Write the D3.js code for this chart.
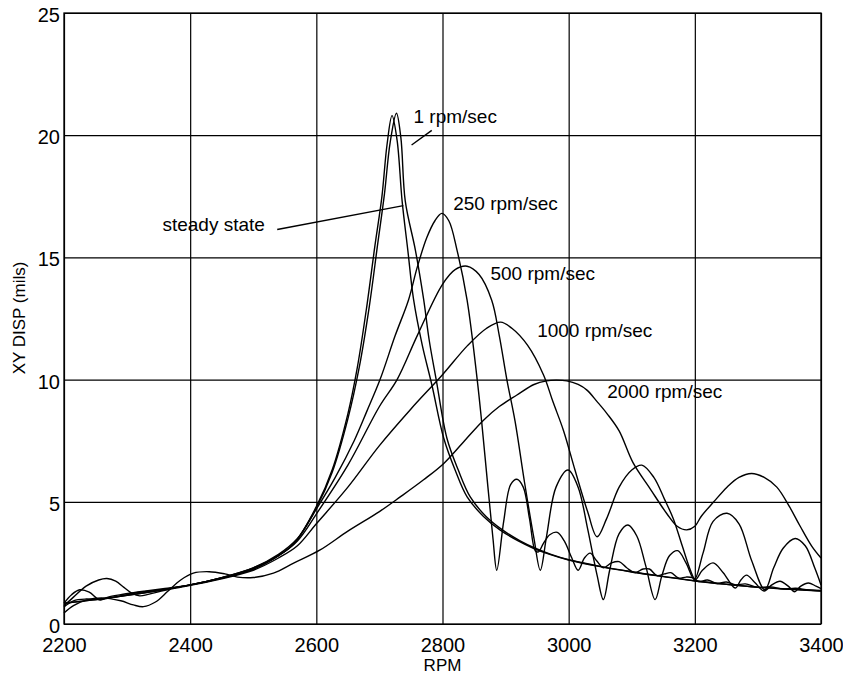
<!DOCTYPE html>
<html>
<head>
<meta charset="utf-8">
<script src="https://cdn.jsdelivr.net/npm/d3@7"></script>
<style>
  body { margin: 0; background: #fff; }
  svg { display: block; font-family: "Liberation Sans", Arial, sans-serif; }
</style>
</head>
<body>
<svg class="chart" width="843" height="683"></svg>
<script>
var w = 843;
var h = 683;
// plot box (note: "top" is reserved on window, so use plot* names)
var plotLeft = 64, plotRight = 821, plotTop = 13, plotBottom = 624;

var xTicks = [2200, 2400, 2600, 2800, 3000, 3200, 3400];
var yTicks = [0, 5, 10, 15, 20, 25];

// [rpm, XY disp in mils]
var steadyState = [[2200,0.85],[2250,1.0],[2300,1.17],[2350,1.37],[2400,1.6],[2450,1.88],[2500,2.25],[2540,2.8],[2565,3.3],[2600,4.8],[2625,6.3],[2650,8.6],[2665,10.5],[2680,13.0],[2693,15.5],[2704,17.5],[2712,19.6],[2720,20.8],[2728,19.8],[2736,17.3],[2745,15.3],[2754,13.3],[2768,11.4],[2783,9.8],[2802,7.6],[2820,6.3],[2839,5.2],[2865,4.4],[2891,3.85],[2920,3.4],[2944,3.1],[2970,2.85],[3000,2.62],[3050,2.35],[3100,2.13],[3150,1.94],[3200,1.76],[3250,1.62],[3300,1.5],[3350,1.42],[3400,1.35]];

var rate1 = [[2200,0.85],[2250,1.0],[2300,1.17],[2350,1.37],[2400,1.6],[2450,1.88],[2500,2.25],[2540,2.8],[2565,3.3],[2600,4.75],[2625,6.2],[2650,8.4],[2668,10.5],[2684,13.0],[2697,15.5],[2708,17.6],[2717,19.7],[2727,20.9],[2734,19.9],[2741,17.3],[2757,15.3],[2770,13.3],[2779,11.6],[2790,10.0],[2807,7.6],[2825,6.3],[2844,5.2],[2869,4.4],[2895,3.85],[2923,3.4],[2947,3.1],[2972,2.85],[3000,2.63],[3050,2.36],[3100,2.14],[3150,1.95],[3200,1.77],[3250,1.63],[3300,1.51],[3350,1.43],[3400,1.36]];

var rate250 = [[2200,0.7],[2215,0.95],[2235,1.02],[2255,1.0],[2275,1.08],[2300,1.2],[2320,1.3],[2350,1.38],[2400,1.6],[2450,1.9],[2500,2.3],[2540,2.85],[2570,3.5],[2600,4.7],[2630,6.0],[2660,7.5],[2680,8.7],[2701,10.0],[2725,11.8],[2746,13.25],[2760,14.6],[2775,15.8],[2788,16.5],[2799,16.8],[2810,16.5],[2823,15.3],[2839,13.25],[2855,10.0],[2862,8.3],[2872,5.6],[2880,3.5],[2886,2.2],[2897,4.2],[2908,5.7],[2918,5.92],[2928,5.6],[2938,4.3],[2947,3.0],[2952,2.95],[2960,3.3],[2970,3.65],[2982,3.75],[2993,3.4],[3005,2.7],[3015,2.2],[3025,2.7],[3034,2.9],[3044,2.6],[3055,2.3],[3068,2.5],[3080,2.55],[3092,2.3],[3105,2.1],[3118,2.25],[3128,2.25],[3140,1.98],[3152,2.05],[3162,2.1],[3174,1.88],[3186,1.92],[3196,1.9],[3206,1.74],[3220,1.8],[3235,1.66],[3250,1.72],[3265,1.6],[3280,1.64],[3300,1.5],[3320,1.52],[3340,1.43],[3360,1.46],[3380,1.39],[3400,1.37]];

var rate500 = [[2200,0.85],[2212,1.2],[2225,1.4],[2240,1.3],[2252,1.05],[2258,0.98],[2270,1.1],[2290,1.2],[2310,1.28],[2330,1.35],[2360,1.45],[2400,1.6],[2450,1.9],[2500,2.3],[2540,2.8],[2570,3.4],[2600,4.5],[2650,6.5],[2700,8.9],[2728,10.0],[2760,11.8],[2800,13.9],[2820,14.5],[2839,14.64],[2858,14.3],[2878,13.25],[2890,11.8],[2902,10.0],[2915,8.3],[2930,5.8],[2945,3.5],[2955,2.2],[2965,3.6],[2980,5.6],[2999,6.3],[3015,5.6],[3030,3.9],[3045,2.0],[3055,1.0],[3065,2.2],[3080,3.7],[3094,4.05],[3108,3.6],[3122,2.4],[3137,1.0],[3148,2.0],[3160,2.8],[3173,3.0],[3186,2.5],[3200,1.8],[3212,2.2],[3229,2.5],[3245,2.1],[3264,1.47],[3273,1.8],[3282,2.0],[3295,1.7],[3310,1.35],[3322,1.6],[3335,1.75],[3348,1.55],[3358,1.32],[3368,1.55],[3380,1.68],[3392,1.55],[3400,1.45]];

var rate1000 = [[2200,0.75],[2215,1.1],[2235,1.55],[2255,1.8],[2268,1.86],[2282,1.75],[2295,1.5],[2308,1.25],[2320,1.15],[2335,1.22],[2360,1.38],[2400,1.58],[2450,1.85],[2500,2.2],[2540,2.7],[2570,3.2],[2600,4.1],[2650,5.6],[2700,7.3],[2750,8.8],[2800,10.2],[2840,11.4],[2870,12.1],[2892,12.35],[2910,12.1],[2935,11.4],[2960,10.2],[2975,9.1],[2992,7.9],[3010,6.3],[3030,4.6],[3045,3.57],[3060,4.3],[3080,5.6],[3100,6.3],[3116,6.5],[3135,6.0],[3152,5.1],[3166,4.3],[3180,3.2],[3193,2.2],[3200,1.85],[3213,2.9],[3229,4.2],[3251,4.53],[3270,4.1],[3290,2.6],[3311,1.4],[3325,2.3],[3340,3.1],[3359,3.5],[3375,3.2],[3390,2.3],[3400,1.6]];

var rate2000 = [[2200,0.45],[2215,0.75],[2235,0.98],[2260,1.07],[2290,0.95],[2310,0.78],[2326,0.71],[2345,0.9],[2365,1.35],[2385,1.8],[2405,2.08],[2430,2.14],[2455,2.05],[2475,1.92],[2500,1.9],[2532,2.08],[2564,2.49],[2606,3.03],[2650,3.8],[2700,4.6],[2733,5.2],[2770,5.9],[2802,6.57],[2835,7.5],[2865,8.34],[2890,8.9],[2918,9.37],[2945,9.8],[2965,9.95],[2980,9.98],[2997,9.95],[3015,9.8],[3029,9.57],[3045,9.1],[3061,8.6],[3080,7.9],[3102,6.6],[3130,5.5],[3156,4.5],[3172,4.0],[3187,3.85],[3200,4.0],[3210,4.4],[3230,5.0],[3251,5.6],[3270,6.0],[3290,6.16],[3310,6.0],[3330,5.6],[3350,4.8],[3367,4.0],[3385,3.2],[3400,2.7]];

var series = [steadyState, rate1, rate250, rate500, rate1000, rate2000];

// label text, label anchor [rpm, mils], optional leader [[rpm, mils], [rpm, mils]]
var labels = [
  { text: "1 rpm/sec", at: [2754, 20.5], leader: [[2783, 20.2], [2751, 19.6]] },
  { text: "steady state", at: [2356, 16.1], leader: [[2538, 16.14], [2738, 17.12]] },
  { text: "250 rpm/sec", at: [2817, 16.93] },
  { text: "500 rpm/sec", at: [2876, 14.07] },
  { text: "1000 rpm/sec", at: [2950, 11.74] },
  { text: "2000 rpm/sec", at: [3061, 9.24] }
];

var canvas = d3.select(".chart");

var xScale = d3.scaleLinear().domain([2200, 3400]).range([plotLeft, plotRight]);
var yScale = d3.scaleLinear().domain([0, 25]).range([plotBottom, plotTop]);

var xAxis = d3.axisBottom(xScale).tickValues(xTicks).tickSize(-(plotBottom - plotTop)).tickPadding(14).tickFormat(d3.format("d"));
var yAxis = d3.axisLeft(yScale).tickValues(yTicks).tickSize(-(plotRight - plotLeft)).tickPadding(4);

var gx = canvas.append("g").attr("transform", "translate(0," + plotBottom + ")").call(xAxis);
var gy = canvas.append("g").attr("transform", "translate(" + plotLeft + ",0)").call(yAxis);

[gx, gy].forEach(function (g) {
  g.select(".domain").remove();
  g.selectAll(".tick line").attr("stroke", "#000").attr("stroke-width", 1.2);
  g.selectAll(".tick text").attr("fill", "#000").style("font-size", "20px");
});
gy.selectAll(".tick text").attr("dy", "0.42em");

// frame
canvas.append("rect")
  .attr("x", plotLeft).attr("y", plotTop)
  .attr("width", plotRight - plotLeft).attr("height", plotBottom - plotTop)
  .attr("fill", "none").attr("stroke", "#000").attr("stroke-width", 1.3);

var line = d3.line()
  .x(function (d) { return xScale(d[0]); })
  .y(function (d) { return yScale(d[1]); })
  .curve(d3.curveCatmullRom.alpha(0.5));

canvas.append("g")
  .selectAll("path")
  .data(series)
  .join("path")
  .attr("d", line)
  .attr("fill", "none")
  .attr("stroke", "#000")
  .attr("stroke-width", 1.4)
  .attr("stroke-linejoin", "round");

// annotations
var ann = canvas.append("g");
labels.forEach(function (l) {
  ann.append("text")
    .attr("x", xScale(l.at[0]))
    .attr("y", yScale(l.at[1]))
    .style("font-size", "19px")
    .attr("fill", "#000")
    .text(l.text);
  if (l.leader) {
    ann.append("line")
      .attr("x1", xScale(l.leader[0][0])).attr("y1", yScale(l.leader[0][1]))
      .attr("x2", xScale(l.leader[1][0])).attr("y2", yScale(l.leader[1][1]))
      .attr("stroke", "#000").attr("stroke-width", 1.4);
  }
});

// axis titles
canvas.append("text")
  .attr("x", (plotLeft + plotRight) / 2)
  .attr("y", 671)
  .attr("text-anchor", "middle")
  .style("font-size", "17px")
  .text("RPM");

canvas.append("text")
  .attr("transform", "translate(25,318) rotate(-90)")
  .attr("text-anchor", "middle")
  .style("font-size", "17px")
  .text("XY DISP (mils)");
</script>
</body>
</html>
